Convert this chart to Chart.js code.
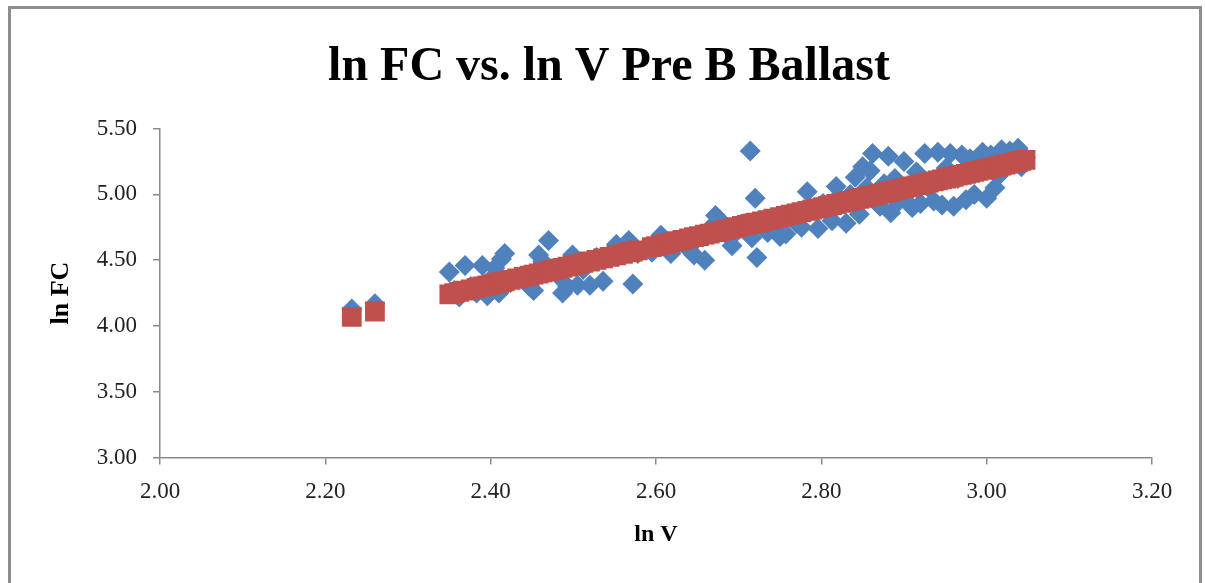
<!DOCTYPE html>
<html>
<head>
<meta charset="utf-8">
<title>ln FC vs. ln V Pre B Ballast</title>
<script src="https://cdn.jsdelivr.net/npm/chart.js@4.4.1/dist/chart.umd.min.js"></script>
<style>
  html, body { margin: 0; padding: 0; background: #fff; overflow: hidden; }
  #wrap { position: relative; width: 1205px; height: 583px; }
  #chart { position: absolute; left: 0; top: 0; }
  #frame {
    position: absolute; left: 8px; top: 6px; width: 1194px; height: 620px;
    border: 3px solid #8e8e8e; box-sizing: border-box; pointer-events: none;
  }
</style>
</head>
<body>
<div id="wrap">
  <canvas id="chart" width="1205" height="583"></canvas>
  <div id="frame"></div>
</div>
<script>
// ln V values (x) shared by both series
const lnV = [
  2.232, 2.260, 2.350, 2.356, 2.362, 2.369, 2.376, 2.383, 2.390, 2.396,
  2.401, 2.405, 2.410, 2.413, 2.417, 2.424, 2.432, 2.440, 2.447, 2.452,
  2.458, 2.463, 2.470, 2.476, 2.482, 2.487, 2.493, 2.499, 2.505, 2.512,
  2.520, 2.528, 2.536, 2.544, 2.552, 2.560, 2.567, 2.572, 2.578, 2.595,
  2.600, 2.606, 2.612, 2.618, 2.625, 2.632, 2.640, 2.646, 2.652, 2.659,
  2.665, 2.672, 2.678, 2.685, 2.692, 2.698, 2.704, 2.710, 2.714, 2.716,
  2.720, 2.722, 2.728, 2.735, 2.742, 2.750, 2.757, 2.763, 2.770, 2.776,
  2.783, 2.789, 2.796, 2.802, 2.808, 2.813, 2.818, 2.824, 2.830, 2.835,
  2.841, 2.846, 2.850, 2.855, 2.859, 2.862, 2.866, 2.871, 2.876, 2.881,
  2.884, 2.889, 2.894, 2.900, 2.905, 2.910, 2.915, 2.920, 2.925, 2.930,
  2.936, 2.941, 2.946, 2.951, 2.956, 2.960, 2.965, 2.970, 2.975, 2.980,
  2.985, 2.990, 2.995, 3.000, 3.005, 3.010, 3.014, 3.018, 3.023, 3.028,
  3.033, 3.038, 3.042, 3.047
];

// measured ln FC (blue diamonds)
const lnFC = [
  4.13, 4.17, 4.41, 4.27, 4.22, 4.46, 4.30, 4.25, 4.46, 4.23,
  4.36, 4.44, 4.25, 4.51, 4.55, 4.33, 4.37, 4.35, 4.30, 4.27,
  4.54, 4.49, 4.65, 4.43, 4.38, 4.25, 4.30, 4.54, 4.31, 4.43,
  4.31, 4.52, 4.34, 4.52, 4.62, 4.56, 4.65, 4.32, 4.55, 4.56,
  4.63, 4.69, 4.60, 4.55, 4.63, 4.66, 4.58, 4.54, 4.68, 4.50,
  4.74, 4.84, 4.80, 4.70, 4.61, 4.72, 4.77, 4.74, 5.33, 4.67,
  4.97, 4.52, 4.80, 4.71, 4.78, 4.68, 4.70, 4.84, 4.78, 4.75,
  5.02, 4.89, 4.74, 4.93, 4.86, 4.80, 5.06, 4.96, 4.78, 5.00,
  5.13, 4.85, 5.21, 5.05, 5.18, 5.31, 4.95, 4.91, 5.08, 5.29,
  4.86, 5.12, 4.95, 5.25, 5.02, 4.90, 5.17, 4.93, 5.31, 5.05,
  4.95, 5.32, 4.92, 5.20, 5.31, 4.91, 5.12, 5.30, 4.96, 5.27,
  5.00, 5.20, 5.32, 4.97, 5.30, 5.05, 5.14, 5.34, 5.22, 5.33,
  5.26, 5.35, 5.21, 5.28
];

// predicted ln FC (red squares)
const lnFCPred = [
  4.069, 4.110, 4.241, 4.250, 4.259, 4.269, 4.279, 4.290, 4.300, 4.309,
  4.316, 4.322, 4.329, 4.334, 4.339, 4.350, 4.361, 4.373, 4.383, 4.391,
  4.399, 4.407, 4.417, 4.426, 4.435, 4.442, 4.451, 4.459, 4.468, 4.479,
  4.490, 4.502, 4.514, 4.525, 4.537, 4.549, 4.559, 4.566, 4.575, 4.600,
  4.607, 4.616, 4.625, 4.634, 4.644, 4.654, 4.666, 4.675, 4.683, 4.694,
  4.702, 4.713, 4.721, 4.732, 4.742, 4.751, 4.760, 4.768, 4.774, 4.777,
  4.783, 4.786, 4.795, 4.805, 4.815, 4.827, 4.837, 4.846, 4.856, 4.865,
  4.875, 4.884, 4.894, 4.903, 4.912, 4.919, 4.927, 4.935, 4.944, 4.951,
  4.960, 4.967, 4.973, 4.981, 4.987, 4.991, 4.997, 5.004, 5.011, 5.019,
  5.023, 5.030, 5.038, 5.047, 5.054, 5.061, 5.069, 5.076, 5.083, 5.090,
  5.099, 5.107, 5.114, 5.121, 5.129, 5.134, 5.142, 5.149, 5.156, 5.164,
  5.171, 5.178, 5.186, 5.193, 5.200, 5.208, 5.213, 5.219, 5.227, 5.234,
  5.241, 5.248, 5.254, 5.262
];

const axisGrey = '#8a8a8a';
const serif = "'Liberation Serif', 'Times New Roman', serif";

function toPoints(xs, ys) {
    return xs.map((x, i) => ({ x: x, y: ys[i] }));
}

const data = {
    datasets: [{
        label: 'ln FC',
        data: toPoints(lnV, lnFC),
        pointStyle: 'rectRot',
        pointRadius: 10.5,
        pointHoverRadius: 10.5,
        backgroundColor: '#4F81BD',
        borderWidth: 0,
        order: 2
    }, {
        label: 'Predicted ln FC',
        data: toPoints(lnV, lnFCPred),
        pointStyle: 'rect',
        pointRadius: 14,
        pointHoverRadius: 14,
        backgroundColor: '#C0504D',
        borderWidth: 0,
        order: 1
    }]
};

const config = {
    type: 'scatter',
    data: data,
    options: {
        responsive: false,
        animation: false,
        // left/right padding differ so the title centre lands where the original has it
        layout: {
            padding: { left: 66, right: 53, top: 0, bottom: 30 }
        },
        plugins: {
            legend: { display: false },
            tooltip: { enabled: false },
            title: {
                display: true,
                text: 'ln FC vs. ln V Pre B Ballast',
                color: '#000',
                font: { family: serif, size: 48, weight: 'bold' },
                padding: { top: 39, bottom: 32 }
            }
        },
        scales: {
            x: {
                type: 'linear',
                min: 2,
                max: 3.2,
                border: { display: true, color: axisGrey, width: 1.5 },
                grid: { drawOnChartArea: false, drawTicks: true, tickLength: 7, color: axisGrey, lineWidth: 1.5 },
                ticks: {
                    stepSize: 0.2,
                    padding: 14,
                    color: '#222',
                    maxRotation: 0,
                    font: { family: serif, size: 23 },
                    callback: v => v.toFixed(2)
                },
                title: {
                    display: true,
                    text: 'ln V',
                    color: '#000',
                    font: { family: serif, size: 24, weight: 'bold' },
                    padding: { top: 0, bottom: 4 }
                }
            },
            y: {
                type: 'linear',
                min: 3,
                max: 5.5,
                afterFit: scale => { scale.width = 94; },
                border: { display: true, color: axisGrey, width: 1.5 },
                grid: { drawOnChartArea: false, drawTicks: true, tickLength: 7, color: axisGrey, lineWidth: 1.5 },
                ticks: {
                    stepSize: 0.5,
                    padding: 16,
                    color: '#222',
                    font: { family: serif, size: 23 },
                    callback: v => v.toFixed(2)
                },
                title: {
                    display: true,
                    text: 'ln FC',
                    color: '#000',
                    font: { family: serif, size: 26, weight: 'bold' },
                    padding: { top: -20, bottom: 4 }
                }
            }
        }
    }
};

new Chart(document.getElementById('chart'), config);
</script>
</body>
</html>
